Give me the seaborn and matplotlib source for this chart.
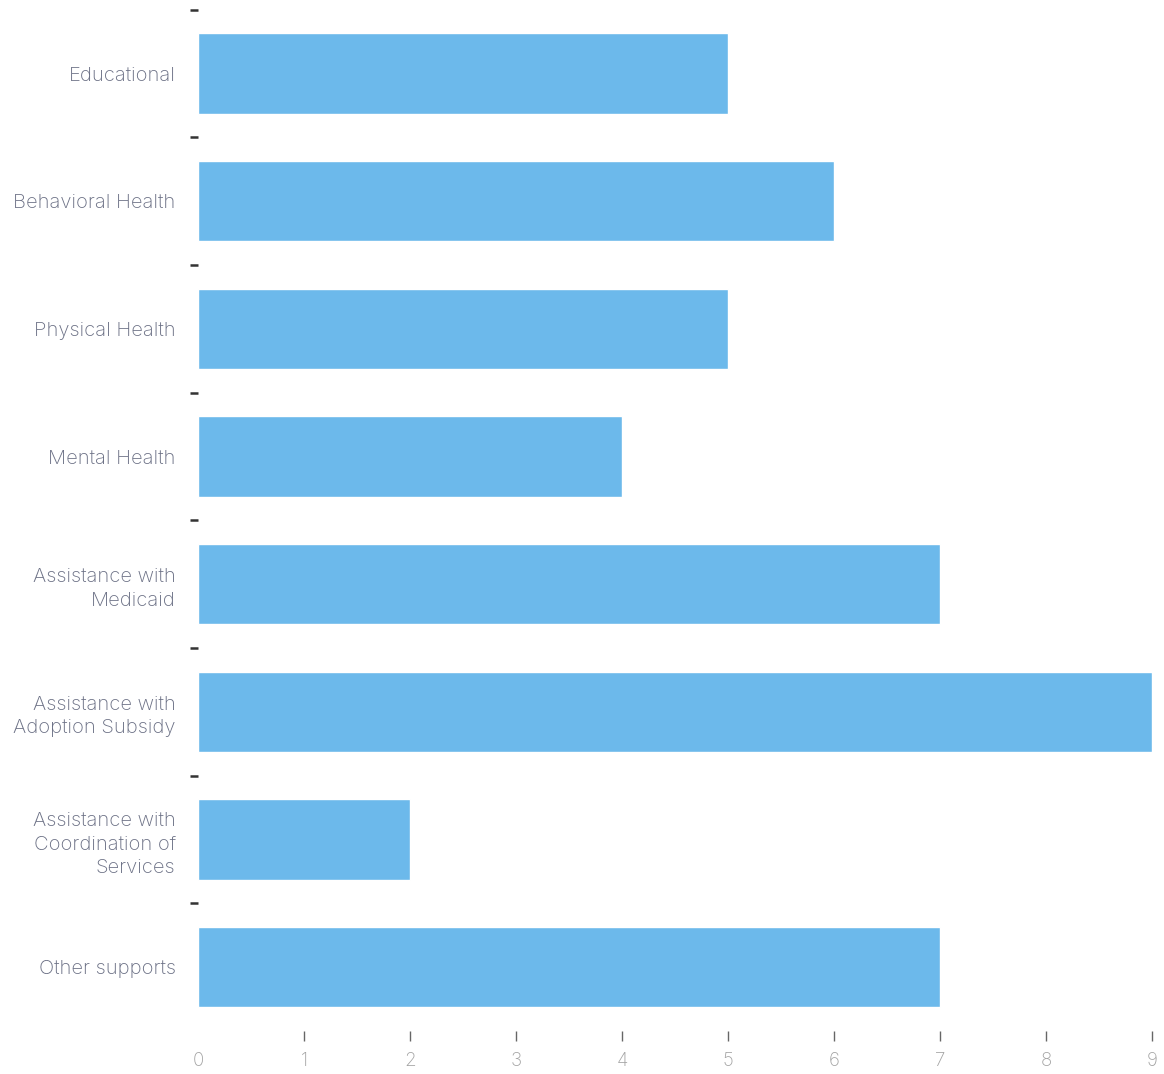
import matplotlib
matplotlib.use("Agg")
import matplotlib.pyplot as plt
import seaborn as sns
import pandas as pd
import numpy as np

categories = [
    "Educational",
    "Behavioral Health",
    "Physical Health",
    "Mental Health",
    "Assistance with\nMedicaid",
    "Assistance with\nAdoption Subsidy",
    "Assistance with\nCoordination of\nServices",
    "Other supports",
]
counts = [5, 6, 5, 4, 7, 9, 2, 7]
x_ticks = list(range(0, 10))

df = pd.DataFrame({"category": categories, "count": counts})

sns.set_theme(style="white")
plt.rcParams["font.family"] = ["Inter", "DejaVu Sans"]

fig = plt.figure(figsize=(11.64, 10.74), dpi=100)
ax = fig.add_axes([0.170, 0.040, 0.820, 0.951])

sns.barplot(data=df, y="category", x="count", orient="h",
            color="#6cb9eb", saturation=1, width=0.63, ax=ax)

ax.set_xlim(0, 9)
ax.set_ylim(len(categories) - 0.5, -0.5)
ax.set_xlabel("")
ax.set_ylabel("")
sns.despine(ax=ax, left=True, bottom=True)

# x axis: light labels, short dark marks (none at 0)
ax.set_xticks(x_ticks)
ax.set_xticklabels([str(v) for v in x_ticks])
ax.tick_params(axis="x", bottom=True, length=7, width=1.0, color="#666666",
               pad=8, labelsize=13.5, labelcolor="#a3a3a3")
ax.xaxis.get_major_ticks()[0].tick1line.set_visible(False)
for lab in ax.get_xticklabels():
    lab.set_fontweight("light")

# y axis: labels centred on bars, dark separator marks between bands
ax.tick_params(axis="y", which="major", left=False, length=0, pad=16,
               labelsize=14.5, labelcolor="#6a6f84")
for lab in ax.get_yticklabels():
    lab.set_fontweight("light")
    lab.set_linespacing(1.4)
ax.set_yticks(np.arange(len(categories)) - 0.5, minor=True)
ax.tick_params(axis="y", which="minor", left=True, length=6, width=1.8,
               color="#333333")

fig.savefig("out.png", dpi=100)
